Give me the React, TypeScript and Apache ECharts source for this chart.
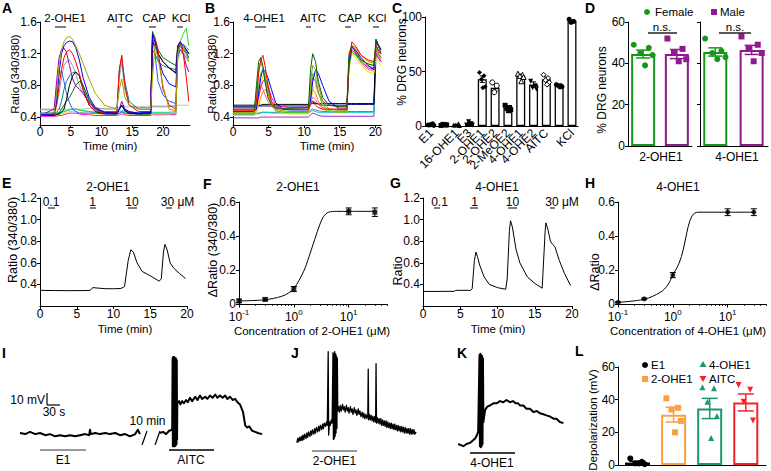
import React, { useEffect, useRef } from "react";
import * as echarts from "echarts";

const FONT = '"Liberation Sans", Arial, Helvetica, sans-serif';

// ---------------- Panel A (2-OHE1 calcium imaging) ----------------
const timeA = [0, 2.3, 2.7, 3.1, 3.5, 3.9, 4.3, 4.8, 5.3, 5.8, 6.4, 7, 8, 9, 10.5, 12.5, 12.9, 13.3, 13.8, 14.5, 16, 18, 18.3, 18.7, 19.2, 20, 21, 22.1, 22.4, 22.8, 23.3, 23.8, 24.2];
const aLightGray = [0.49, 0.49, 0.5, 0.5, 0.5, 0.5, 0.5, 0.5, 0.5, 0.5, 0.5, 0.5, 0.51, 0.51, 0.51, 0.52, 0.52, 0.53, 0.53, 0.53, 0.53, 0.54, 0.54, 0.54, 0.54, 0.54, 0.54, 0.55, 0.55, 0.55, 0.55, 0.55, 0.55];
const aMagenta = [0.41, 0.41, 0.41, 0.42, 0.42, 0.43, 0.44, 0.45, 0.45, 0.45, 0.44, 0.43, 0.43, 0.42, 0.42, 0.42, 0.43, 0.44, 0.43, 0.42, 0.42, 0.42, 0.43, 0.43, 0.43, 0.43, 0.43, 0.43, 1.25, 1.3, 1.32, 1.28, 1.25];
const aYellow = [0.43, 0.43, 0.43, 0.43, 0.44, 0.45, 0.46, 0.47, 0.47, 0.47, 0.46, 0.45, 0.44, 0.44, 0.44, 0.44, 0.44, 0.45, 0.44, 0.44, 0.44, 0.44, 0.44, 0.44, 0.44, 0.44, 0.44, 0.45, 1.1, 1.2, 1.22, 1.18, 1.15];
const aCyan = [0.45, 0.45, 0.45, 0.46, 0.46, 0.47, 0.48, 0.49, 0.5, 0.5, 0.49, 0.48, 0.47, 0.46, 0.46, 0.46, 0.47, 0.48, 0.47, 0.46, 0.46, 0.46, 0.46, 0.46, 0.46, 0.46, 0.46, 0.47, 1.25, 1.32, 1.3, 1.25, 1.2];
const aGreen = [0.44, 0.44, 0.44, 0.45, 0.46, 0.47, 0.48, 0.49, 0.5, 0.5, 0.49, 0.48, 0.47, 0.46, 0.45, 0.44, 0.45, 0.46, 0.45, 0.45, 0.44, 0.44, 0.45, 0.45, 0.45, 0.45, 0.45, 0.45, 1.3, 1.35, 1.45, 1.52, 1.3];
const aGray = [0.5, 0.5, 0.55, 0.7, 0.9, 1.05, 1.1, 1.12, 1.05, 0.95, 0.8, 0.7, 0.58, 0.52, 0.5, 0.5, 0.9, 1.08, 0.75, 0.55, 0.52, 0.52, 0.53, 0.53, 0.53, 0.53, 0.53, 0.54, 1.2, 1.28, 1.25, 1.2, 1.15];
const aTeal = [0.45, 0.45, 0.46, 0.5, 0.6, 0.75, 0.85, 0.92, 0.96, 0.97, 0.92, 0.8, 0.6, 0.5, 0.47, 0.47, 1.0, 1.15, 0.85, 0.6, 0.5, 0.5, 1.25, 1.2, 1.1, 1.05, 1.02, 1.0, 1.25, 1.3, 1.28, 1.22, 1.15];
const aDarkGreen = [0.43, 0.43, 0.44, 0.45, 0.5, 0.55, 0.6, 0.65, 0.72, 0.8, 0.85, 0.8, 0.62, 0.5, 0.45, 0.45, 0.5, 0.55, 0.48, 0.45, 0.44, 0.45, 1.48, 1.4, 1.25, 1.15, 1.1, 1.05, 1.3, 1.32, 1.25, 1.2, 1.15];
const aBlue2 = [0.43, 0.45, 0.75, 0.95, 0.98, 0.85, 0.7, 0.58, 0.5, 0.47, 0.45, 0.45, 0.45, 0.45, 0.44, 0.44, 0.45, 0.47, 0.45, 0.44, 0.44, 0.45, 1.42, 1.2, 0.85, 0.68, 0.6, 0.57, 1.15, 1.25, 1.2, 1.15, 1.1];
const aPurple = [0.42, 0.5, 0.85, 1.15, 1.25, 1.27, 1.22, 1.05, 0.88, 0.8, 0.75, 0.7, 0.58, 0.5, 0.46, 0.45, 0.5, 0.6, 0.5, 0.46, 0.45, 0.46, 1.38, 1.35, 1.2, 1.1, 1.02, 0.95, 1.2, 1.25, 1.2, 1.05, 0.97];
const aBlack = [0.42, 0.42, 0.43, 0.44, 0.46, 0.5, 0.62, 0.8, 0.92, 0.97, 0.92, 0.75, 0.55, 0.47, 0.44, 0.44, 0.5, 0.55, 0.48, 0.45, 0.44, 0.44, 1.35, 1.3, 1.2, 1.1, 1.02, 0.96, 1.28, 1.3, 1.3, 1.25, 1.2];
const aRed = [0.42, 0.43, 0.55, 0.8, 1.0, 1.15, 1.22, 1.25, 1.2, 1.1, 0.95, 0.75, 0.55, 0.48, 0.45, 0.46, 1.0, 1.18, 0.8, 0.55, 0.47, 0.47, 1.45, 1.38, 1.25, 0.75, 0.55, 0.5, 1.3, 1.35, 1.2, 0.9, 0.6];
const aBlue = [0.43, 0.44, 0.6, 0.95, 1.2, 1.3, 1.34, 1.36, 1.35, 1.28, 1.12, 0.9, 0.65, 0.52, 0.46, 0.45, 0.5, 0.55, 0.5, 0.47, 0.45, 0.46, 1.45, 1.35, 1.15, 0.95, 0.82, 0.78, 1.3, 1.35, 1.3, 1.25, 1.2];
const aOlive = [0.44, 0.45, 0.7, 1.05, 1.25, 1.35, 1.4, 1.42, 1.38, 1.3, 1.2, 1.08, 0.88, 0.7, 0.55, 0.5, 0.75, 0.88, 0.65, 0.55, 0.5, 0.5, 0.9, 1.3, 1.15, 0.8, 0.5, 0.48, 1.2, 1.3, 1.3, 1.2, 1.1];
const tracesA = [aLightGray, aMagenta, aYellow, aCyan, aGreen, aGray, aTeal, aDarkGreen, aBlue2, aPurple, aBlack, aRed, aBlue, aOlive];
const colorsA = ["#bdbdbd", "#ff00ff", "#e6e600", "#00d8d8", "#22e022", "#9a9a9a", "#008a8a", "#007a00", "#2a5cff", "#9a00aa", "#000000", "#ff0000", "#0000ee", "#a3a300"];

// ---------------- Panel B (4-OHE1 calcium imaging) ----------------
const timeB = [0, 3, 3.3, 3.6, 3.9, 4.2, 4.5, 4.9, 5.4, 6, 7, 8, 10.6, 10.9, 11.2, 11.6, 12, 12.6, 13.5, 15, 16, 16.3, 16.7, 17.2, 18, 19, 19.8, 20.1, 20.4, 20.8];
const bPurple = [0.39, 0.39, 0.39, 0.39, 0.4, 0.4, 0.4, 0.4, 0.4, 0.4, 0.4, 0.4, 0.4, 0.43, 0.45, 0.44, 0.42, 0.41, 0.41, 0.41, 0.41, 0.41, 0.41, 0.41, 0.41, 0.41, 0.41, 1.2, 1.15, 1.1];
const bTeal = [0.45, 0.45, 0.45, 0.45, 0.46, 0.46, 0.46, 0.46, 0.46, 0.46, 0.46, 0.46, 0.46, 0.49, 0.5, 0.49, 0.48, 0.47, 0.47, 0.47, 0.47, 0.47, 0.47, 0.47, 0.47, 0.47, 0.47, 1.25, 1.2, 1.15];
const bCyan = [0.43, 0.43, 0.44, 0.44, 0.45, 0.46, 0.46, 0.46, 0.45, 0.45, 0.45, 0.45, 0.45, 0.47, 0.48, 0.47, 0.46, 0.46, 0.46, 0.46, 0.46, 0.46, 0.46, 0.46, 0.46, 0.46, 0.46, 1.3, 1.25, 1.2];
const bNavy = [0.53, 0.53, 0.53, 0.54, 0.54, 0.54, 0.54, 0.54, 0.54, 0.54, 0.54, 0.54, 0.54, 0.58, 0.6, 0.58, 0.56, 0.55, 0.55, 0.55, 0.55, 0.56, 0.56, 0.56, 0.56, 0.56, 0.56, 1.3, 1.25, 1.2];
const bBlack = [0.55, 0.55, 0.55, 0.55, 0.55, 0.56, 0.56, 0.56, 0.56, 0.56, 0.56, 0.56, 0.56, 0.57, 0.57, 0.57, 0.57, 0.57, 0.57, 0.57, 0.57, 0.57, 0.57, 0.57, 0.57, 0.57, 0.57, 1.38, 1.32, 1.25];
const bOrange = [0.44, 0.44, 0.46, 0.55, 0.65, 0.72, 0.75, 0.7, 0.55, 0.48, 0.46, 0.45, 0.45, 0.6, 0.75, 0.7, 0.6, 0.5, 0.47, 0.46, 0.46, 1.1, 1.3, 1.25, 1.12, 1.07, 1.05, 1.28, 1.22, 1.15];
const bPink = [0.5, 0.5, 0.6, 0.72, 0.8, 0.75, 0.68, 0.6, 0.53, 0.51, 0.5, 0.5, 0.5, 0.58, 0.65, 0.62, 0.56, 0.52, 0.5, 0.5, 0.5, 1.05, 1.25, 1.2, 1.08, 1.0, 0.98, 1.22, 1.18, 1.12];
const bYellow = [0.42, 0.42, 0.45, 0.6, 0.8, 0.92, 0.95, 0.85, 0.6, 0.48, 0.45, 0.44, 0.44, 0.6, 0.75, 0.8, 0.7, 0.55, 0.48, 0.46, 0.46, 1.0, 1.2, 1.15, 1.05, 0.97, 0.95, 1.15, 1.12, 1.05];
const bMagenta = [0.52, 0.52, 0.55, 0.65, 0.78, 0.85, 0.88, 0.8, 0.65, 0.55, 0.53, 0.52, 0.52, 0.7, 0.9, 0.85, 0.7, 0.6, 0.55, 0.53, 0.53, 1.1, 1.25, 1.2, 1.1, 1.02, 1.0, 1.2, 1.15, 1.1];
const bGreen = [0.44, 0.44, 0.55, 0.8, 0.95, 1.0, 0.92, 0.75, 0.58, 0.48, 0.46, 0.46, 0.46, 0.75, 0.95, 0.9, 0.72, 0.55, 0.48, 0.46, 0.46, 1.05, 1.22, 1.18, 1.1, 1.04, 1.02, 1.3, 1.22, 1.15];
const bBlue = [0.47, 0.47, 0.5, 0.7, 0.9, 1.0, 0.98, 0.9, 0.75, 0.58, 0.5, 0.49, 0.49, 0.6, 0.85, 1.0, 0.95, 0.8, 0.6, 0.5, 0.5, 1.05, 1.28, 1.25, 1.15, 1.05, 1.0, 1.35, 1.3, 1.25];
const bOlive = [0.46, 0.46, 0.7, 1.0, 1.1, 1.0, 0.85, 0.7, 0.58, 0.5, 0.48, 0.47, 0.47, 0.85, 1.05, 1.0, 0.8, 0.6, 0.5, 0.48, 0.48, 1.15, 1.3, 1.28, 1.18, 1.1, 1.08, 1.25, 1.2, 1.15];
const bRed = [0.48, 0.48, 0.6, 0.95, 1.12, 1.18, 1.05, 0.8, 0.6, 0.52, 0.5, 0.5, 0.5, 0.55, 0.6, 0.55, 0.52, 0.5, 0.5, 0.5, 0.5, 1.1, 1.35, 1.3, 1.18, 1.12, 1.1, 1.3, 1.25, 1.2];
const bDarkGreen = [0.5, 0.5, 0.8, 1.1, 1.15, 1.05, 0.85, 0.65, 0.55, 0.52, 0.51, 0.51, 0.52, 1.0, 1.2, 1.1, 0.85, 0.65, 0.55, 0.53, 0.53, 1.2, 1.3, 1.22, 1.12, 1.07, 1.05, 1.38, 1.3, 1.22];
const tracesB = [bPurple, bTeal, bCyan, bNavy, bBlack, bOrange, bPink, bYellow, bMagenta, bGreen, bBlue, bOlive, bRed, bDarkGreen];
const colorsB = ["#9933cc", "#4a8a9a", "#00cccc", "#000088", "#000000", "#ff8800", "#ff5f9a", "#e6e600", "#ff00cc", "#33cc33", "#0000ff", "#999900", "#ff0000", "#006600"];

// ---------------- Panel C ----------------
const cNames = ["E1", "E2", "16-OHE1", "E3", "2-OHE1", "2-OHE2", "2-MeOE2", "4-OHE1", "4-OHE2", "AITC", "Capsaicin", "KCl"];
const cMeans = [1, 1, 1, 2, 43, 35, 16.5, 46, 38, 43, 37.5, 96.5];
const cSem = [0.4, 0.3, 0.4, 1.5, 3, 3, 1.5, 1.2, 2.5, 2, 0.8, 0.8];
const cPoints = [
  [1, 2, 1, 0.5, 1.5],
  [0.5, 1, 1.5, 1],
  [1, 2, 1, 0.5],
  [1, 2, 4, 1],
  [49, 46, 43, 36, 35],
  [40, 37, 31],
  [19, 17, 16, 15, 14],
  [48, 47, 46, 45, 41],
  [41, 37, 35, 34],
  [47, 44, 42, 40, 38],
  [38, 37, 37, 36, 36],
  [98, 96, 95],
];

// ---------------- Panel D ----------------
const dGroups = ["2-OHE1", "4-OHE1"];
const dFemaleMean = [44.5, 45.5];
const dFemaleSem = [1.9, 2.0];
const dMaleMean = [44.5, 46.5];
const dMaleSem = [2.2, 2.2];
const dFemale2 = [49, 47.5, 45, 44, 39];
const dMale2 = [52, 47, 45, 42, 41];
const dFemale4 = [52, 46, 45, 43, 42];
const dMale4 = [53, 49, 47, 45, 41];

// ---------------- Panels E & G (dose traces) ----------------
const eTime = [0, 2, 4, 6, 6.8, 7.2, 8, 9, 10, 11, 11.5, 12, 12.35, 12.7, 13.2, 13.9, 15, 16.2, 16.5, 16.8, 17.0, 17.3, 17.7, 18.2, 19, 19.8];
const eRatio = [0.345, 0.343, 0.342, 0.343, 0.345, 0.37, 0.365, 0.36, 0.36, 0.362, 0.38, 0.62, 0.72, 0.7, 0.6, 0.52, 0.48, 0.43, 0.45, 0.7, 0.77, 0.72, 0.6, 0.55, 0.5, 0.455];
const gTime = [0, 2, 4.2, 4.4, 6.4, 6.6, 6.9, 7.1, 7.3, 7.6, 8.2, 8.9, 10, 11.1, 11.3, 11.6, 11.75, 12, 12.5, 13, 14, 15, 16, 16.1, 16.4, 16.5, 16.8, 17.1, 17.4, 17.7, 18.3, 19, 19.8];
const gRatio = [0.335, 0.335, 0.336, 0.345, 0.345, 0.36, 0.62, 0.7, 0.66, 0.58, 0.47, 0.4, 0.37, 0.355, 0.45, 0.9, 0.99, 0.93, 0.72, 0.6, 0.47, 0.41, 0.365, 0.5, 0.9, 0.97, 0.9, 0.8, 0.77, 0.75, 0.62, 0.5, 0.39];
const doseLabels = ["0.1", "1", "10", "30 μM"];

// ---------------- Panels F & H (dose response) ----------------
const conc = [0.1, 0.3, 1, 10, 30];
const fMean = [0.018, 0.027, 0.088, 0.545, 0.54];
const fSem = [0.01, 0.008, 0.015, 0.02, 0.025];
const fCurveX = [0.1, 0.3, 0.6, 0.8, 1, 1.5, 1.9, 2.4, 3, 3.5, 4.3, 6, 10, 30];
const fCurveY = [0.018, 0.025, 0.045, 0.065, 0.09, 0.19, 0.28, 0.38, 0.47, 0.515, 0.54, 0.545, 0.545, 0.545];
const hMean = [0.01, 0.03, 0.17, 0.54, 0.54];
const hSem = [0.003, 0.005, 0.015, 0.02, 0.02];
const hCurveX = [0.1, 0.3, 0.6, 0.8, 1, 1.3, 1.55, 1.8, 2.05, 2.4, 3, 4, 10, 30];
const hCurveY = [0.01, 0.028, 0.07, 0.11, 0.17, 0.24, 0.32, 0.42, 0.49, 0.53, 0.54, 0.54, 0.54, 0.54];

// ---------------- Panels I, J, K (membrane potential, [s, mV]) ----------------
const iPre = [[0, -60], [12, -61], [23, -59], [35, -61], [46, -60], [58, -62], [69, -61], [81, -63], [92, -62], [104, -63], [115, -62], [127, -63], [138, -62], [150, -61], [159, -62], [161, -57], [163, -61], [173, -60], [184, -61], [196, -60], [207, -61], [219, -60], [230, -62], [242, -61], [253, -63], [265, -61], [271, -57], [276, -61]];
const iPost = [[322, -60], [329, -59], [336, -61], [343, -58], [350, -57], [351, 8], [351.6, -72], [352.2, 9], [352.8, -72], [353.4, 8], [354, -72], [354.6, 9], [355.2, -71], [355.8, 8], [356.4, -72], [357, 8], [357.6, -71], [358.2, 8], [358.8, -71], [359.4, 7], [360, -70], [360.6, 6], [361.2, -66], [361.8, -33], [366, -31], [369, -34], [373, -31], [377, -33], [382, -30], [386, -32], [391, -28], [396, -31], [403, -27], [408, -30], [414, -26], [419, -29], [426, -27], [431, -29], [437, -26], [443, -28], [449, -25], [454, -28], [460, -26], [466, -28], [472, -26], [477, -29], [483, -27], [489, -30], [495, -29], [500, -32], [506, -34], [513, -41], [518, -53], [522, -55], [527, -54], [534, -58], [541, -59], [547, -60], [557, -61]];
const jTrace = [[2, -69], [4, -65], [6, -68], [8, -64], [10, -67], [12, -63], [14, -67], [16, -62], [18, -66], [20, -61], [23, -65], [25, -60], [27, -64], [29, -59], [32, -63], [34, -58], [36, -62], [38, -57], [41, -61], [43, -56], [45, -60], [47, -55], [50, -59], [52, -54], [54, -58], [56, -53], [59, -57], [61, -52], [63, -56], [65, -51], [68, -54], [70, -50], [72, -53], [74, 14], [75, -62], [77, -50], [79, -53], [81, -48], [83, -51], [85, 13], [86, -66], [87, 12], [88, -65], [89, 14], [90, -63], [91, 12], [92, -60], [93, 10], [94, -56], [95, 8], [96, -40], [98, -36], [100, -41], [102, -35], [104, -40], [107, -34], [109, -39], [111, -36], [113, -41], [116, -35], [118, -40], [120, -37], [122, -42], [125, -36], [127, -41], [129, -38], [131, -43], [134, -37], [136, -42], [138, -39], [140, -44], [143, -38], [145, -43], [147, -40], [149, -45], [152, -41], [154, -46], [156, -42], [158, -47], [161, -43], [163, -47], [165, -44], [166, -2], [167, -48], [169, -43], [171, -48], [173, -44], [175, -49], [177, -45], [179, -50], [181, -45], [183, -50], [184, 3], [185, -51], [187, -46], [189, -51], [191, -47], [193, -52], [195, -47], [197, -53], [199, -48], [201, -53], [203, -49], [205, -54], [207, -49], [209, -55], [211, -50], [213, -55], [215, -51], [217, -56], [219, -51], [221, -56], [223, -52], [225, -57], [227, -52], [229, -57], [231, -53], [233, -58], [235, -53], [237, -58], [239, -54], [241, -59], [243, -54], [245, -59], [247, -55], [249, -60], [251, -55], [253, -60], [255, -56], [257, -60], [259, -56], [261, -61], [263, -56], [265, -61], [267, -57], [269, -61], [271, -57], [273, -61], [276, -59]];
const kTrace = [[5, -70], [11, -71], [17, -72], [24, -70], [32, -69], [38, -67], [44, -65], [48, -62], [51, -59], [54, 11], [55, -72], [56, 12], [57, -73], [58, 11], [59, -72], [60, 10], [61, -70], [62, 8], [63, -50], [67, -39], [72, -36], [78, -35], [86, -33], [94, -33], [101, -31], [109, -32], [116, -30], [124, -32], [131, -31], [137, -33], [143, -33], [147, -35], [155, -35], [162, -38], [170, -38], [178, -41], [186, -40], [193, -42], [201, -43], [208, -44], [216, -45], [224, -47], [231, -47], [239, -50], [247, -51]];

// ---------------- Panel L ----------------
const lGroups = ["E1", "2-OHE1", "4-OHE1", "AITC"];
const lMean = [1.5, 30.8, 34.6, 38.3];
const lSem = [0.8, 4.5, 6.2, 5.2];
const lE1 = [4, 2, 1, 0.5, 1];
const l2OHE1 = [40.8, 35, 34, 27, 20];
const l4OHE1 = [47.6, 47, 38.7, 30, 16.6];
const lAITC = [49, 46, 38.7, 27.3];

const JIT = [-1, 0.6, -0.3, 1, 0.2, -0.7];

function valAxis(gi: number, min: number, max: number, ticks: number[] | null, label: any = {}, extra: any = {}) {
  return {
    type: "value", gridIndex: gi, min, max,
    axisLine: { show: true, onZero: false, lineStyle: { color: "#000", width: 1 } },
    axisTick: ticks ? { show: true, length: 3, customValues: ticks, lineStyle: { color: "#000", width: 1 } } : { show: false },
    axisLabel: ticks ? { show: true, customValues: ticks, color: "#000", fontFamily: FONT, fontSize: 12, margin: 3, hideOverlap: false, showMinLabel: true, showMaxLabel: true, ...label } : { show: false },
    splitLine: { show: false },
    ...extra,
  };
}

function hiddenAxis(gi: number, min: number, max: number) {
  return { type: "value", gridIndex: gi, min, max, show: false, splitLine: { show: false } };
}

function logAxis(gi: number, minor: boolean) {
  const sup = (v: number) => {
    const e = Math.round(Math.log10(v));
    return `{b|10}{s|${e}}`;
  };
  return {
    type: "log", logBase: 10, gridIndex: gi, min: 0.1, max: 50, position: "bottom", offset: 0,
    axisLine: { show: !minor, onZero: false, lineStyle: { color: "#000", width: 1 } },
    axisTick: minor
      ? { show: true, length: 2, customValues: [0.2, 0.3, 0.4, 0.5, 0.6, 0.7, 0.8, 0.9, 2, 3, 4, 5, 6, 7, 8, 9, 20, 30, 40, 50], lineStyle: { color: "#000", width: 0.8 } }
      : { show: true, length: 3.5, customValues: [0.1, 1, 10], lineStyle: { color: "#000", width: 1 } },
    axisLabel: minor
      ? { show: false }
      : {
          show: true, customValues: [0.1, 1, 10], margin: 4, formatter: sup,
          rich: {
            b: { fontSize: 12, fontFamily: FONT, color: "#000", lineHeight: 15, verticalAlign: "bottom" },
            s: { fontSize: 8, fontFamily: FONT, color: "#000", lineHeight: 9, verticalAlign: "top" },
          },
        },
    splitLine: { show: false },
    minorSplitLine: { show: false },
  };
}

function lines(ai: number, xs: number[], ys: number[], color: string, width = 1, smooth: any = false) {
  return {
    type: "line", xAxisIndex: ai, yAxisIndex: ai, symbol: "none", silent: true, smooth,
    data: xs.map((x, i) => [x, ys[i]]),
    lineStyle: { color, width }, z: 3,
  };
}

function pairLine(ai: number, pts: number[][], color: string, width: number) {
  return {
    type: "line", xAxisIndex: ai, yAxisIndex: ai, symbol: "none", silent: true,
    data: pts, lineStyle: { color, width, join: "round" }, z: 3,
  };
}

function errBars(ai: number, xs: number[], means: number[], sems: number[], colors: string | string[], cap: number, width = 1.2) {
  return {
    type: "custom", xAxisIndex: ai, yAxisIndex: ai, z: 6, silent: true,
    data: xs.map((x, i) => [x, means[i] - sems[i], means[i] + sems[i]]),
    encode: { x: 0, y: [1, 2] },
    renderItem: (params: any, api: any) => {
      const lo = api.coord([api.value(0), api.value(1)]);
      const hi = api.coord([api.value(0), api.value(2)]);
      const c = Array.isArray(colors) ? colors[params.dataIndex] : colors;
      const style = { stroke: c, lineWidth: width, fill: null };
      return {
        type: "group",
        children: [
          { type: "line", shape: { x1: lo[0], y1: lo[1], x2: hi[0], y2: hi[1] }, style },
          { type: "line", shape: { x1: hi[0] - cap, y1: hi[1], x2: hi[0] + cap, y2: hi[1] }, style },
          { type: "line", shape: { x1: lo[0] - cap, y1: lo[1], x2: lo[0] + cap, y2: lo[1] }, style },
        ],
      };
    },
  };
}

function dots(ai: number, xc: number, vals: number[], symbol: string, size: number, fill: string, stroke: string, spread: number, rotate = 0) {
  const hollow = fill === "#fff";
  return {
    type: "scatter", xAxisIndex: ai, yAxisIndex: ai, z: 7, silent: true,
    symbol, symbolSize: size, symbolRotate: rotate,
    data: vals.map((v, i) => [xc + JIT[i % JIT.length] * spread, v]),
    itemStyle: { color: fill, borderColor: stroke, borderWidth: hollow ? 1 : 0, opacity: 1 },
  };
}

function pointSeries(ai: number, xs: number[], ys: number[], symbol: string, size: number) {
  return {
    type: "scatter", xAxisIndex: ai, yAxisIndex: ai, z: 7, silent: true,
    symbol, symbolSize: size, data: xs.map((x, i) => [x, ys[i]]),
    itemStyle: { color: "#000" },
  };
}

function txt(text: string, x: number, y: number, o: any = {}) {
  return { type: "text", x, y, z: 100, silent: true, style: { text, fontFamily: FONT, fontSize: 12, fill: "#000", align: "center", verticalAlign: "middle", ...o } };
}
function vtxt(text: string, x: number, y: number, size = 12) {
  return { ...txt(text, x, y, { fontSize: size }), rotation: Math.PI / 2 };
}
function ln(x1: number, y1: number, x2: number, y2: number, stroke = "#000", w = 1) {
  return { type: "line", z: 100, silent: true, shape: { x1, y1, x2, y2 }, style: { stroke, lineWidth: w } };
}

function buildOption() {
  const grids = [
    { left: 40, top: 22, width: 150, height: 103 },   // 0 A
    { left: 233, top: 22, width: 148, height: 103 },  // 1 B
    { left: 425, top: 17, width: 153, height: 109 },  // 2 C
    { left: 628, top: 22, width: 64, height: 124 },   // 3 D1
    { left: 700, top: 22, width: 68, height: 124 },   // 4 D2
    { left: 40, top: 198, width: 147, height: 108 },  // 5 E
    { left: 239, top: 202, width: 148, height: 102 }, // 6 F
    { left: 423, top: 198, width: 149, height: 108 }, // 7 G
    { left: 618, top: 202, width: 148, height: 102 }, // 8 H
    { left: 20, top: 345, width: 245, height: 110 },  // 9 I
    { left: 296, top: 345, width: 124, height: 110 }, // 10 J
    { left: 456, top: 345, width: 110, height: 110 }, // 11 K
    { left: 618, top: 367, width: 148, height: 98 },  // 12 L
  ].map((g) => ({ ...g, containLabel: false, outerBoundsMode: "none" }));

  const f1 = (v: number) => v.toFixed(1);
  const fInt = (v: number) => String(Math.round(v));
  const fDelta = (v: number) => (v === 0 ? "0" : v.toFixed(1));
  const noTick = { axisTick: { show: false }, axisLabel: { show: false } };

  const xAxis: any[] = [
    valAxis(0, 0, 24.4, [0, 5, 10, 15, 20], { formatter: fInt, margin: 1 }, { position: "bottom" }),
    valAxis(1, 0, 20.8, [0, 5, 10, 15, 20], { formatter: fInt, margin: 1 }, { position: "bottom" }),
    valAxis(2, -0.47, 11.47, [0, 1, 2, 3, 4, 5, 6, 7, 8, 9, 10, 11], { formatter: (v: number) => cNames[Math.round(v)], rotate: 45, fontSize: 12, margin: 5 }, { position: "bottom" }),
    { ...valAxis(3, -0.45, 1.45, null, {}, { position: "bottom" }), ...noTick },
    { ...valAxis(4, -0.42, 1.45, null, {}, { position: "bottom" }), ...noTick },
    valAxis(5, 0, 20, [0, 5, 10, 15, 20], { formatter: fInt, margin: 2 }, { position: "bottom" }),
    logAxis(6, false),
    valAxis(7, 0, 20, [0, 5, 10, 15, 20], { formatter: fInt, margin: 2 }, { position: "bottom" }),
    logAxis(8, false),
    hiddenAxis(9, 0, 563.5),
    hiddenAxis(10, 0, 285),
    hiddenAxis(11, 0, 253),
    { ...valAxis(12, -0.54, 3.56, null, {}, { position: "bottom" }), ...noTick },
    logAxis(6, true),
    logAxis(8, true),
  ];
  xAxis[2].axisTick = { show: false };

  const yAxis: any[] = [
    valAxis(0, 0.3, 1.6, [0.4, 0.8, 1.2, 1.6], { formatter: f1 }, { position: "left" }),
    valAxis(1, 0.3, 1.6, [0.4, 0.8, 1.2, 1.6], { formatter: f1 }, { position: "left" }),
    valAxis(2, 0, 100, [0, 50, 100], { formatter: fInt }, { position: "left" }),
    valAxis(3, 0, 60, [0, 20, 40, 60], { formatter: fInt }, { position: "left" }),
    valAxis(4, 0, 60, [0, 20, 40, 60], {}, { position: "left" }),
    valAxis(5, 0.2, 1.2, [0.4, 0.6, 0.8, 1.0, 1.2], { formatter: f1 }, { position: "left" }),
    valAxis(6, 0, 0.6, [0, 0.2, 0.4, 0.6], { formatter: fDelta }, { position: "left" }),
    valAxis(7, 0.2, 1.2, [0.4, 0.6, 0.8, 1.0, 1.2], { formatter: f1 }, { position: "left" }),
    valAxis(8, 0, 0.6, [0, 0.2, 0.4, 0.6], { formatter: fDelta }, { position: "left" }),
    hiddenAxis(9, -80, 20),
    hiddenAxis(10, -80, 20),
    hiddenAxis(11, -80, 20),
    valAxis(12, 0, 60, [0, 20, 40, 60], { formatter: fInt }, { position: "left" }),
  ];
  yAxis[4].axisLabel = { show: false };

  const series: any[] = [];
  // A & B traces
  tracesA.forEach((vals, i) => series.push(lines(0, timeA, vals, colorsA[i], 1)));
  tracesB.forEach((vals, i) => series.push(lines(1, timeB, vals, colorsB[i], 1)));

  // C
  series.push({
    type: "bar", xAxisIndex: 2, yAxisIndex: 2, barWidth: 9, silent: true, z: 2,
    data: cMeans.map((m, i) => [i, m]),
    itemStyle: { color: "#fff", borderColor: "#000", borderWidth: 1.3 },
  });
  series.push(errBars(2, cMeans.map((_, i) => i), cMeans, cSem, "#000", 2.5, 1));
  const cSym: [string, string, number][] = [
    ["circle", "#000", 0], ["rect", "#000", 0], ["triangle", "#000", 0], ["triangle", "#000", 180],
    ["diamond", "#000", 0], ["circle", "#fff", 0], ["rect", "#000", 0], ["triangle", "#fff", 0],
    ["triangle", "#000", 180], ["diamond", "#fff", 0], ["circle", "#000", 0], ["circle", "#000", 0],
  ];
  cPoints.forEach((vals, i) => series.push(dots(2, i, vals, cSym[i][0], 5, cSym[i][1], "#000", 0.22, cSym[i][2])));

  // D
  const green = "#16971a";
  const purple = "#8e1a8e";
  [3, 4].forEach((ai, g) => {
    series.push({
      type: "bar", xAxisIndex: ai, yAxisIndex: ai, barWidth: 24, silent: true, z: 2,
      data: [
        { value: [0, dFemaleMean[g]], itemStyle: { color: "#fff", borderColor: green, borderWidth: 2 } },
        { value: [1, dMaleMean[g]], itemStyle: { color: "#fff", borderColor: purple, borderWidth: 2 } },
      ],
    });
    series.push(errBars(ai, [0, 1], [dFemaleMean[g], dMaleMean[g]], [dFemaleSem[g], dMaleSem[g]], [green, purple], 7, 1.5));
    series.push(dots(ai, 0, g === 0 ? dFemale2 : dFemale4, "circle", 6, green, green, 0.28));
    series.push(dots(ai, 1, g === 0 ? dMale2 : dMale4, "rect", 6, purple, purple, 0.28));
  });

  // E, G
  series.push(lines(5, eTime, eRatio, "#000", 1));
  series.push(lines(7, gTime, gRatio, "#000", 1));

  // F, H
  series.push(lines(6, fCurveX, fCurveY, "#000", 1, 0.35));
  series.push(errBars(6, conc, fMean, fSem, "#000", 3, 1));
  series.push(pointSeries(6, conc, fMean, "rect", 5));
  series.push(lines(8, hCurveX, hCurveY, "#000", 1, 0.35));
  series.push(errBars(8, conc, hMean, hSem, "#000", 3, 1));
  series.push(pointSeries(8, conc, hMean, "circle", 5));

  // I, J, K
  series.push(pairLine(9, iPre, "#000", 2));
  series.push(pairLine(9, iPost, "#000", 2));
  series.push(pairLine(10, jTrace, "#000", 1.3));
  series.push(pairLine(11, kTrace, "#000", 2));

  // L
  const lColors = ["#000000", "#f9a040", "#1a9a6a", "#f5222d"];
  series.push({
    type: "bar", xAxisIndex: 12, yAxisIndex: 12, barWidth: 25, silent: true, z: 2,
    data: lMean.map((m, i) => ({ value: [i, m], itemStyle: { color: "#fff", borderColor: lColors[i], borderWidth: 2 } })),
  });
  series.push(errBars(12, [0, 1, 2, 3], lMean, lSem, lColors, 8, 1.5));
  series.push(dots(12, 0, lE1, "circle", 6, lColors[0], lColors[0], 0.2));
  series.push(dots(12, 1, l2OHE1, "rect", 6, lColors[1], lColors[1], 0.2));
  series.push(dots(12, 2, l4OHE1, "triangle", 6, lColors[2], lColors[2], 0.2));
  series.push(dots(12, 3, lAITC, "triangle", 6, lColors[3], lColors[3], 0.2, 180));

  // ---------- graphic annotations ----------
  const g: any[] = [];
  const letters: [string, number, number][] = [
    ["A", 2, 1], ["B", 205, 1], ["C", 392, 1], ["D", 585, 1],
    ["E", 2, 176], ["F", 203, 177], ["G", 390, 176], ["H", 585, 176],
    ["I", 2, 346], ["J", 291, 346], ["K", 457, 346], ["L", 575, 344],
  ];
  letters.forEach(([t, x, y]) => g.push(txt(t, x, y, { fontSize: 14, fontWeight: "bold", align: "left", verticalAlign: "top" })));

  // A
  g.push(vtxt("Ratio (340/380)", 15, 74, 11.5));
  g.push(txt("Time (min)", 110, 146, { fontSize: 11.5 }));
  [["2-OHE1", 65], ["AITC", 120], ["CAP", 154], ["KCl", 181]].forEach(([t, x]) => g.push(txt(t as string, x as number, 18, { fontSize: 11.5 })));
  [[55, 66], [117, 122], [149, 156], [177, 183]].forEach(([a, b]) => g.push(ln(a, 27, b, 27)));
  // B
  g.push(vtxt("Ratio (340/380)", 212, 74, 11.5));
  g.push(txt("Time (min)", 327, 146, { fontSize: 11.5 }));
  [["4-OHE1", 264], ["AITC", 313], ["CAP", 350], ["KCl", 377]].forEach(([t, x]) => g.push(txt(t as string, x as number, 18, { fontSize: 11.5 })));
  [[255, 266], [306, 311], [345, 351], [373, 379]].forEach(([a, b]) => g.push(ln(a, 27, b, 27)));
  // C
  g.push(vtxt("% DRG neurons", 402, 62, 12));
  // D
  g.push(vtxt("% DRG neurons", 602, 90, 12));
  g.push({ type: "circle", z: 100, shape: { cx: 647, cy: 12, r: 3 }, style: { fill: green } });
  g.push(txt("Female", 655, 12, { align: "left", fontSize: 11.5 }));
  g.push({ type: "rect", z: 100, shape: { x: 711, y: 9, width: 6, height: 6 }, style: { fill: purple } });
  g.push(txt("Male", 720, 12, { align: "left", fontSize: 11.5 }));
  g.push(txt("n.s.", 662, 26.5, { fontSize: 11.5 }));
  g.push(ln(648, 33, 677, 33, "#000", 1.3));
  g.push(txt("n.s.", 735, 26.5, { fontSize: 11.5 }));
  g.push(ln(719, 33, 751, 33, "#000", 1.3));
  g.push(txt(dGroups[0], 661, 157));
  g.push(txt(dGroups[1], 737, 157));
  // E
  g.push(vtxt("Ratio (340/380)", 13, 240, 12.5));
  g.push(txt("2-OHE1", 108, 187));
  [[51, 48, 55], [92.5, 90, 96], [132, 128, 137], [177.5, 166, 172]].forEach(([x, a, b], i) => {
    g.push(txt(doseLabels[i], x, 202));
    g.push(ln(a, 208, b, 208));
  });
  g.push(txt("Time (min)", 125, 329, { fontSize: 11.5 }));
  // F
  g.push(vtxt("ΔRatio (340/380)", 213, 250, 12.5));
  g.push(txt("2-OHE1", 298, 187));
  g.push(txt("Concentration of 2-OHE1 (μM)", 312, 331, { fontSize: 11.5 }));
  // G
  g.push(vtxt("Ratio", 398, 271, 12.5));
  g.push(txt("4-OHE1", 497, 187));
  [[439.5, 434, 440], [474.5, 470, 478], [512.5, 508, 517], [562, 550, 555]].forEach(([x, a, b], i) => {
    g.push(txt(doseLabels[i], x, 202));
    g.push(ln(a, 208, b, 208));
  });
  g.push(txt("Time (min)", 498, 329, { fontSize: 11.5 }));
  // H
  g.push(vtxt("ΔRatio", 595, 272, 12.5));
  g.push(txt("4-OHE1", 678, 187));
  g.push(txt("Concentration of 4-OHE1 (μM)", 688, 331, { fontSize: 11.5 }));
  // I
  g.push(txt("10 mV", 45, 400, { align: "right" }));
  g.push(ln(47, 393, 47, 405, "#000", 1.2));
  g.push(ln(47, 405, 60, 405, "#000", 1.2));
  g.push(txt("30 s", 54, 412));
  g.push(txt("10 min", 147.5, 421));
  g.push(ln(142, 445, 147, 431, "#000", 1.2));
  g.push(ln(155, 445, 160, 431, "#000", 1.2));
  g.push(ln(40, 450, 86, 450, "#777", 1.3));
  g.push(txt("E1", 63, 460));
  g.push(ln(169, 450, 214, 450, "#000", 1.3));
  g.push(txt("AITC", 191, 460));
  // J, K
  g.push(ln(312, 451, 357, 451, "#777", 1.3));
  g.push(txt("2-OHE1", 334.5, 461));
  g.push(ln(470, 453, 515, 453, "#000", 1.3));
  g.push(txt("4-OHE1", 492, 463));
  // L
  g.push(vtxt("Depolarization (mV)", 593, 420, 11.5));
  g.push({ type: "circle", z: 100, shape: { cx: 645, cy: 365, r: 3 }, style: { fill: "#000" } });
  g.push(txt(lGroups[0], 651, 365, { align: "left", fontSize: 11.5 }));
  g.push({ type: "polygon", z: 100, shape: { points: [[703, 361], [706.5, 367], [699.5, 367]] }, style: { fill: lColors[2] } });
  g.push(txt(lGroups[2], 709, 365, { align: "left", fontSize: 11.5 }));
  g.push({ type: "rect", z: 100, shape: { x: 642, y: 376, width: 6, height: 6 }, style: { fill: lColors[1] } });
  g.push(txt(lGroups[1], 651, 379, { align: "left", fontSize: 11.5 }));
  g.push({ type: "polygon", z: 100, shape: { points: [[699.5, 376], [706.5, 376], [703, 382]] }, style: { fill: lColors[3] } });
  g.push(txt(lGroups[3], 709, 379, { align: "left", fontSize: 11.5 }));

  return {
    animation: false,
    backgroundColor: "#fff",
    textStyle: { fontFamily: FONT },
    grid: grids,
    xAxis,
    yAxis,
    series,
    graphic: { elements: g },
  };
}

export default function App() {
  const ref = useRef<HTMLDivElement>(null);
  useEffect(() => {
    document.body.style.margin = "0";
    const chart = echarts.init(ref.current as HTMLDivElement, null, { renderer: "svg" });
    chart.setOption(buildOption() as any);
    return () => chart.dispose();
  }, []);
  return <div ref={ref} style={{ position: "absolute", left: 0, top: 0, width: 771, height: 471, background: "#fff" }} />;
}
